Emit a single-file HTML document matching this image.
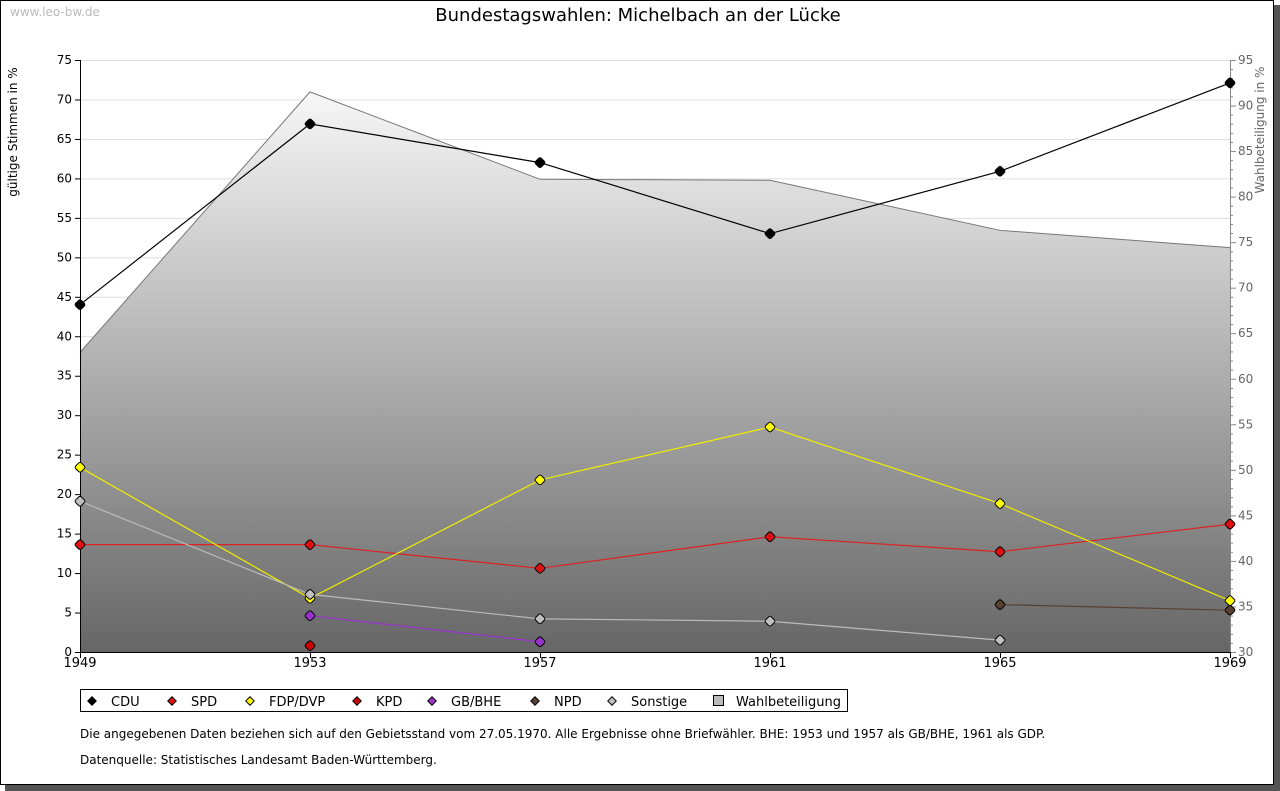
<!DOCTYPE html>
<html><head><meta charset="utf-8"><style>
html,body{margin:0;padding:0;background:#fff;}
svg{display:block;font-family:"DejaVu Sans","Liberation Sans",sans-serif;}
</style></head><body>
<svg id="chart" width="1280" height="791" xmlns="http://www.w3.org/2000/svg">
<defs><linearGradient id="g" gradientUnits="userSpaceOnUse" x1="0" y1="60" x2="0" y2="652"><stop offset="0" stop-color="#ffffff"/><stop offset="1" stop-color="#666666"/></linearGradient></defs>
<rect x="5" y="5" width="1275" height="786" fill="#555"/>
<rect x="0.5" y="0.5" width="1273" height="784" fill="#fff" stroke="#000"/>
<text x="10" y="16" font-size="12" fill="#bbb">www.leo-bw.de</text>
<text x="638" y="21" font-size="18" text-anchor="middle" fill="#000">Bundestagswahlen: Michelbach an der Lücke</text>
<text transform="translate(17,132) rotate(-90)" font-size="12" text-anchor="middle">gültige Stimmen in %</text>
<text transform="translate(1264,130) rotate(-90)" font-size="12" fill="#666" text-anchor="middle">Wahlbeteiligung in %</text>
<g id="grid"></g><g id="area"></g><g id="axes"></g><g id="series"></g>
<rect x="80.5" y="689.5" width="767" height="22" fill="#fff" stroke="#000"/>
<g id="legend"></g>
<text x="80" y="738" font-size="12">Die angegebenen Daten beziehen sich auf den Gebietsstand vom 27.05.1970. Alle Ergebnisse ohne Briefwähler. BHE: 1953 und 1957 als GB/BHE, 1961 als GDP.</text>
<text x="80" y="764" font-size="12">Datenquelle: Statistisches Landesamt Baden-Württemberg.</text>
</svg>
<script>
const years=[1949,1953,1957,1961,1965,1969];
const leftTicks=[0,5,10,15,20,25,30,35,40,45,50,55,60,65,70,75];
const rightTicks=[30,35,40,45,50,55,60,65,70,75,80,85,90,95];
const turnout=[62.9,91.5,81.9,81.8,76.3,74.4];
const cdu=[44.0,66.9,62.0,53.0,60.9,72.1];
const spd=[13.6,13.6,10.6,14.6,12.7,16.2];
const fdp=[23.4,6.8,21.8,28.5,18.8,6.5];
const kpd=[null,0.8,null,null,null,null];
const bhe=[null,4.6,1.3,null,null,null];
const npd=[null,null,null,null,6.0,5.3];
const sonst=[19.1,7.3,4.2,3.9,1.5,null];
const NS="http://www.w3.org/2000/svg";
const X=y=>80+(y-1949)/(1969-1949)*1150;
const YL=v=>652-v/75*592;
const YR=v=>652-(v-30)/65*592;
function el(tag,attrs,parent){const e=document.createElementNS(NS,tag);for(const k in attrs)e.setAttribute(k,attrs[k]);parent.appendChild(e);return e;}
const grid=document.getElementById('grid'),axes=document.getElementById('axes'),area=document.getElementById('area'),ser=document.getElementById('series'),leg=document.getElementById('legend');
leftTicks.forEach(t=>{
 if(t>0){const l=el('line',{x1:80,x2:1230,y1:YL(t)+.5,y2:YL(t)+.5,stroke:'#ddd'},grid);
 
 }
 el('line',{x1:75,x2:80,y1:YL(t)+.5,y2:YL(t)+.5,stroke:'#000'},axes);
 const tx=el('text',{x:72,y:YL(t)+4,'font-size':12,'text-anchor':'end'},axes);tx.textContent=t;
 
 
});
let d='M'+X(years[0])+','+YR(turnout[0]);
years.forEach((y,i)=>{d+=' L'+X(y)+','+YR(turnout[i]);});
const ap=el('path',{d:d+' L1230,652 L80,652 Z',fill:'url(#g)',stroke:'none'},area);


const al=el('path',{d:d,fill:'none',stroke:'#777','stroke-width':1},area);


for(let v=30;v<=95;v++){el('line',{x1:1230,x2:v%5==0?1236:1233,y1:YR(v)+.5,y2:YR(v)+.5,stroke:'#888'},axes);}
rightTicks.forEach(t=>{const tx=el('text',{x:1238,y:YR(t)+4,'font-size':12,fill:'#666'},axes);tx.textContent=t;
 
 });
el('line',{x1:80.5,x2:80.5,y1:60,y2:653,stroke:'#000'},axes);
el('line',{x1:1230.5,x2:1230.5,y1:60,y2:653,stroke:'#888'},axes);
el('line',{x1:80,x2:1231,y1:652.5,y2:652.5,stroke:'#000'},axes);
years.forEach(y=>{el('line',{x1:X(y)+.5,x2:X(y)+.5,y1:652,y2:658,stroke:'#000'},axes);
 const tx=el('text',{x:X(y),y:667,'font-size':13,'text-anchor':'middle'},axes);tx.textContent=y;
 
 });
const series=[['cdu',cdu,'#000','#000'],['spd',spd,'#dd2222','#dd1111'],['fdp',fdp,'#eeee00','#ffff00'],['kpd',kpd,'#aa0000','#cc0000'],['bhe',bhe,'#9933cc','#9933cc'],['npd',npd,'#5a4030','#5a4030'],['sonstige',sonst,'#bbbbbb','#c0c0c0']];
series.forEach(([n,arr,lc,fc])=>{
 const g=el('g',{},ser);
 
 
 let p='';years.forEach((y,i)=>{if(arr[i]!=null){p+=(p&&arr[i-1]!=null?' L':' M')+X(y)+','+YL(arr[i]);}});
 el('path',{d:p,fill:'none',stroke:lc,'stroke-width':1.2},g);
 years.forEach((y,i)=>{if(arr[i]!=null){const m=el('rect',{x:X(y)-4,y:YL(arr[i])-4,width:8,height:8,rx:2,fill:fc,stroke:'#000','stroke-width':1,transform:`rotate(45 ${X(y)} ${YL(arr[i])})`},g);
  
  }});
});
const legItems=[['CDU','#000',92],['SPD','#dd1111',172],['FDP/DVP','#ffff00',250],['KPD','#cc0000',357],['GB/BHE','#9933cc',432],['NPD','#5a4030',535],['Sonstige','#c0c0c0',612]];
legItems.forEach(([t,c,x])=>{
 const g=el('g',{},leg);
 
 
 el('rect',{x:x-3,y:698,width:6,height:6,fill:c,stroke:'#000','stroke-width':1,transform:`rotate(45 ${x} 701)`},g);
 const tx=el('text',{x:x+19,y:706,'font-size':13},g);tx.textContent=t;
});
const g=el('g',{},leg);


el('rect',{x:713.5,y:695.5,width:10,height:10,fill:'#bbb',stroke:'#000'},g);
const tx=el('text',{x:736,y:706,'font-size':13},g);tx.textContent='Wahlbeteiligung';
</script>
</body></html>
